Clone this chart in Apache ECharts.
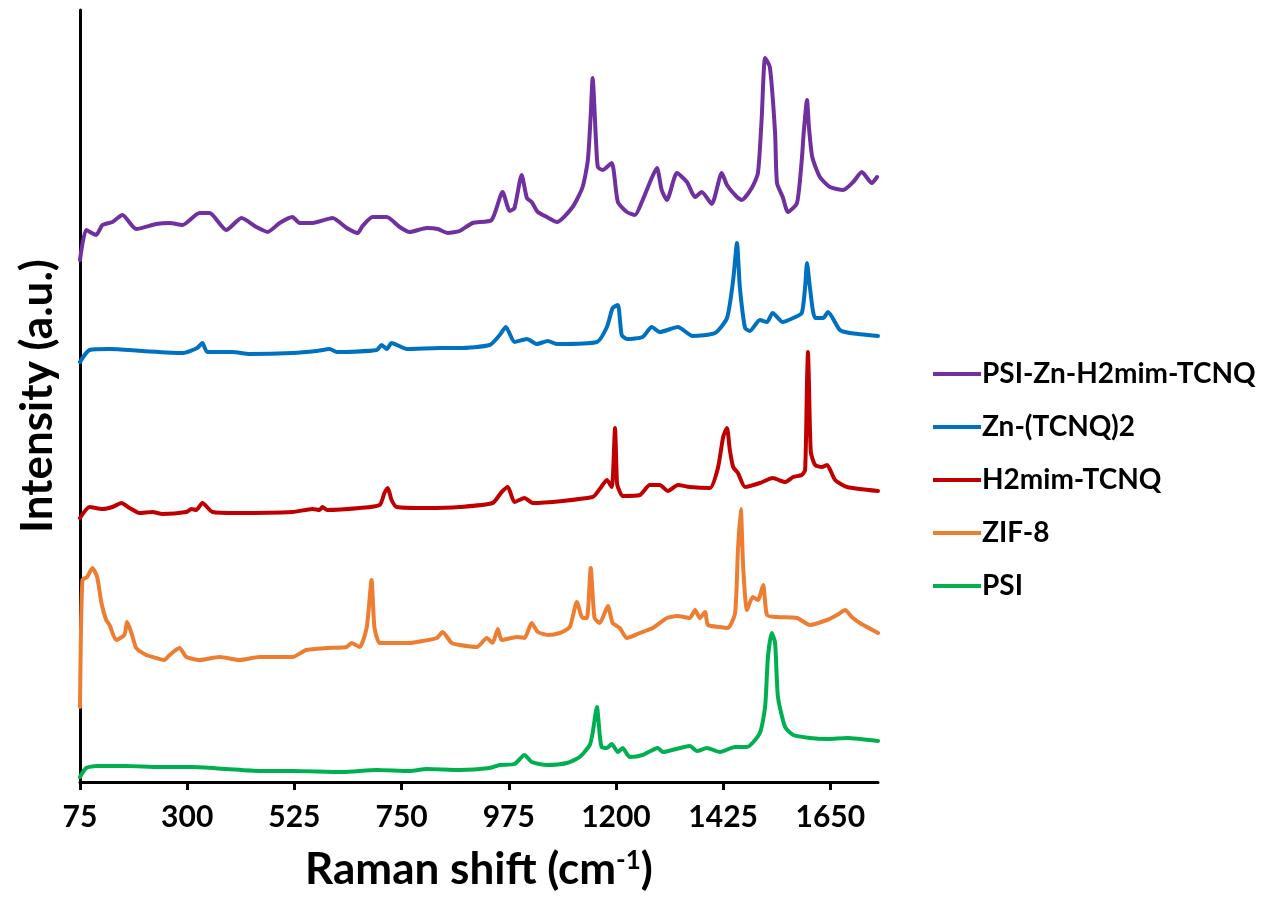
<!DOCTYPE html>
<html>
<head>
<meta charset="utf-8">
<title>Raman spectra</title>
<script src="https://cdn.jsdelivr.net/npm/echarts@6/dist/echarts.min.js"></script>
<style>
  html, body { margin: 0; padding: 0; background: #fff; }
  #chart { width: 1264px; height: 902px; }
</style>
</head>
<body>
<div id="chart"></div>
<script>
// Raman shift tick labels (cm-1)
const tickLabels = [75, 300, 525, 750, 975, 1200, 1425, 1650];

// Stacked (offset) Raman spectra, intensity in arbitrary units
const hybridShift = [75, 88, 109, 122, 143, 164, 193, 235, 263, 290, 326, 347, 382, 414, 445, 469, 494, 521, 536, 563, 605, 635, 658, 668, 689, 719, 746, 767, 803, 826, 847, 872, 899, 939, 962, 977, 987, 1002, 1013, 1023, 1036, 1055, 1076, 1109, 1130, 1141, 1147, 1151, 1158, 1162, 1172, 1191, 1204, 1223, 1240, 1256, 1275, 1286, 1296, 1307, 1328, 1349, 1366, 1380, 1401, 1422, 1433, 1454, 1464, 1485, 1498, 1506, 1513, 1523, 1534, 1538, 1550, 1561, 1580, 1590, 1594, 1601, 1605, 1612, 1628, 1649, 1677, 1698, 1716, 1737, 1748];
const hybridIntensity = [522, 552, 547, 557, 560, 567, 553, 558, 559, 557, 569, 569, 552, 564, 555, 550, 559, 565, 559, 559, 564, 554, 549, 556, 565, 565, 555, 550, 554, 553, 549, 551, 559, 562, 590, 571, 574, 607, 584, 580, 570, 565, 560, 575, 595, 622, 667, 704, 642, 615, 612, 619, 580, 570, 567, 582, 604, 614, 592, 582, 609, 600, 585, 590, 578, 609, 597, 585, 582, 594, 609, 665, 724, 715, 649, 599, 585, 570, 579, 622, 649, 682, 655, 625, 605, 595, 592, 600, 610, 599, 605];

const znTcnqShift = [75, 95, 137, 206, 290, 321, 332, 342, 395, 431, 521, 571, 599, 614, 698, 708, 719, 729, 761, 830, 872, 935, 956, 969, 987, 1013, 1034, 1057, 1076, 1160, 1181, 1193, 1204, 1212, 1223, 1256, 1275, 1292, 1330, 1361, 1408, 1433, 1446, 1454, 1460, 1471, 1481, 1502, 1517, 1529, 1550, 1572, 1590, 1597, 1601, 1607, 1618, 1635, 1645, 1670, 1691, 1750];
const znTcnqIntensity = [420, 432, 433, 431, 429, 434, 439, 430, 430, 428, 429, 431, 433, 430, 432, 437, 433, 439, 433, 434, 434, 437, 447, 455, 440, 443, 438, 441, 438, 440, 455, 474, 477, 447, 443, 445, 455, 450, 455, 446, 449, 464, 502, 539, 495, 454, 451, 462, 460, 469, 460, 464, 469, 495, 519, 495, 464, 464, 470, 452, 449, 446];

const h2mimShift = [75, 95, 122, 143, 162, 179, 200, 227, 248, 298, 309, 319, 332, 353, 403, 521, 563, 578, 584, 593, 662, 704, 714, 721, 729, 740, 803, 872, 941, 960, 973, 987, 1008, 1025, 1151, 1166, 1181, 1191, 1194, 1198, 1202, 1204, 1214, 1250, 1271, 1292, 1309, 1330, 1355, 1397, 1414, 1425, 1433, 1439, 1446, 1456, 1471, 1502, 1529, 1555, 1572, 1590, 1597, 1601, 1603, 1605, 1609, 1618, 1632, 1643, 1660, 1685, 1750];
const h2mimIntensity = [264, 275, 273, 275, 279, 274, 269, 270, 268, 270, 273, 272, 279, 270, 269, 270, 273, 272, 275, 272, 274, 277, 289, 294, 282, 275, 274, 275, 279, 290, 295, 280, 284, 279, 285, 293, 302, 295, 310, 354, 300, 295, 286, 287, 297, 297, 291, 297, 295, 294, 314, 345, 354, 332, 315, 309, 295, 299, 304, 300, 305, 307, 312, 400, 430, 400, 330, 317, 315, 317, 302, 295, 291];

const zif8Shift = [75, 80, 90, 101, 111, 120, 130, 137, 151, 168, 174, 183, 193, 214, 235, 252, 263, 284, 298, 326, 368, 410, 452, 521, 550, 593, 635, 645, 662, 677, 687, 693, 704, 731, 767, 794, 824, 836, 855, 872, 908, 929, 941, 952, 960, 992, 1008, 1023, 1036, 1057, 1082, 1103, 1118, 1130, 1139, 1147, 1155, 1166, 1183, 1193, 1208, 1223, 1250, 1277, 1307, 1328, 1355, 1366, 1376, 1387, 1393, 1418, 1435, 1450, 1456, 1462, 1467, 1475, 1487, 1498, 1509, 1517, 1538, 1580, 1607, 1643, 1664, 1681, 1695, 1712, 1750];
const zif8Intensity = [75, 202, 205, 214, 205, 179, 162, 157, 142, 147, 160, 149, 134, 127, 124, 122, 127, 134, 125, 122, 125, 122, 125, 125, 132, 134, 135, 139, 135, 155, 202, 155, 139, 139, 139, 141, 144, 150, 139, 137, 135, 144, 139, 153, 142, 145, 144, 159, 150, 147, 149, 155, 180, 164, 164, 214, 164, 159, 176, 159, 154, 144, 149, 154, 164, 166, 164, 172, 164, 170, 157, 155, 154, 169, 232, 273, 215, 172, 185, 182, 197, 167, 165, 164, 157, 162, 167, 172, 165, 159, 149];

const psiShift = [75, 88, 109, 172, 242, 311, 382, 452, 521, 626, 698, 767, 803, 872, 935, 956, 987, 1008, 1023, 1055, 1097, 1124, 1145, 1151, 1160, 1166, 1170, 1181, 1191, 1204, 1214, 1229, 1256, 1288, 1298, 1355, 1370, 1391, 1418, 1450, 1475, 1502, 1513, 1519, 1527, 1534, 1540, 1555, 1572, 1607, 1643, 1685, 1750];
const psiIntensity = [5, 14, 16, 16, 15, 15, 13, 11, 11, 10, 12, 11, 13, 12, 14, 17, 18, 27, 20, 17, 19, 25, 37, 49, 75, 47, 35, 34, 38, 30, 34, 25, 27, 34, 30, 36, 31, 34, 30, 35, 35, 49, 75, 125, 149, 139, 85, 55, 47, 44, 43, 44, 41];

const seriesNames = ['PSI-Zn-H2mim-TCNQ', 'Zn-(TCNQ)2', 'H2mim-TCNQ', 'ZIF-8', 'PSI'];
const seriesColors = ['#7030A0', '#0070C0', '#C00000', '#ED7D31', '#00B050'];
const seriesShifts = [hybridShift, znTcnqShift, h2mimShift, zif8Shift, psiShift];
const seriesIntensities = [hybridIntensity, znTcnqIntensity, h2mimIntensity, zif8Intensity, psiIntensity];

const FONT = 'Lato';

const series = seriesNames.map((name, i) => ({
  name: name,
  type: 'line',
  data: seriesShifts[i].map((x, j) => [x, seriesIntensities[i][j]]),
  showSymbol: false,
  symbol: 'none',
  smooth: 0.2,
  lineStyle: { color: seriesColors[i], width: 4, join: 'round', cap: 'round' },
  itemStyle: { color: seriesColors[i] },
  z: 10 - i
}));

const chart = echarts.init(document.getElementById('chart'), null, { renderer: 'canvas' });
chart.setOption({
  animation: false,
  backgroundColor: '#fff',
  grid: { left: 80, right: 386, top: 10, bottom: 120, containLabel: false },
  legend: {
    orient: 'vertical',
    left: 928,
    top: 354,
    itemWidth: 48,
    itemHeight: 14,
    itemGap: 23,
    icon: 'path://M0,5 L48,5 L48,9 L0,9 Z',
    data: seriesNames,
    textStyle: { fontFamily: FONT, fontWeight: 'bold', fontSize: 28, color: '#000', lineHeight: 30, padding: [0, 0, 0, -4] }
  },
  xAxis: {
    type: 'value',
    min: 75,
    max: 1750,
    interval: 225,
    name: 'Raman shift (cm{sup|-1})',
    nameLocation: 'middle',
    nameGap: 66,
    nameTextStyle: {
      fontFamily: FONT, fontWeight: 'bold', fontSize: 44, color: '#000',
      rich: { sup: { fontFamily: FONT, fontWeight: 'bold', fontSize: 26, color: '#000', verticalAlign: 'top', padding: [0, 0, 18, 0] } }
    },
    axisLine: { lineStyle: { color: '#000', width: 3 } },
    axisTick: { show: true, inside: false, length: 8, customValues: tickLabels, lineStyle: { color: '#000', width: 3 } },
    axisLabel: {
      customValues: tickLabels,
      formatter: (v) => String(v),
      fontFamily: FONT, fontWeight: 'bold', fontSize: 30, color: '#000', margin: 20
    },
    splitLine: { show: false }
  },
  yAxis: {
    type: 'value',
    min: 0,
    max: 772,
    name: 'Intensity (a.u.)',
    nameLocation: 'middle',
    nameGap: 20,
    nameRotate: 90,
    nameTextStyle: { fontFamily: FONT, fontWeight: 'bold', fontSize: 44, color: '#000' },
    axisLine: { show: true, lineStyle: { color: '#000', width: 3 } },
    axisTick: { show: false },
    axisLabel: { show: false },
    splitLine: { show: false }
  },
  series: series
});
</script>
</body>
</html>
